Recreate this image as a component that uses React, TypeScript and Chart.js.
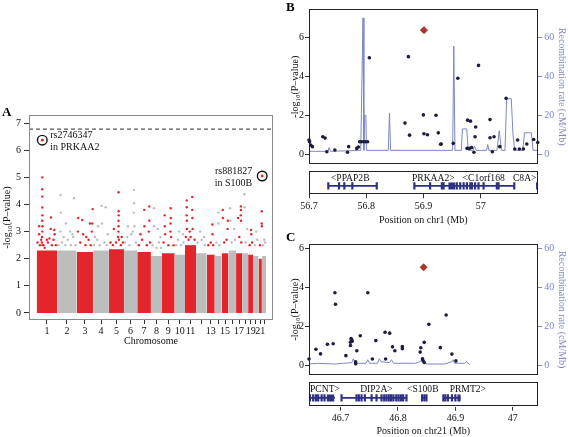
import React, { useEffect, useRef } from 'react';
import { Chart, registerables } from 'chart.js';

Chart.register(...registerables);

const FONT = "'Liberation Serif', 'Times New Roman', serif";
const RED = '#e3262b';
const GREY = '#bdbdbd';
const NAVY = '#2e3182';
const RECOMB = '#7d87c6';
const DOT = '#1d1d3c';
const HIT = '#b3322a';

// ---------------- Panel A: genome-wide scan ----------------
const CHROMOSOMES = ['1','2','3','4','5','6','7','8','9','10','11','12','13','14','15','16','17','18','19','20','21','22'];
const CHR_SPAN_MB = [257, 243, 207, 196, 188, 166, 171, 138, 159, 129, 138, 134, 100, 88, 83, 96, 75, 75, 63, 66, 43, 54];
const CHR_TICK_LABELS = ['1','2','3','4','5','6','7','8','9','10','11','','13','','15','','17','','19','','21',''];
const BAND_TOP = [2.3, 2.3, 2.25, 2.3, 2.35, 2.3, 2.25, 2.1, 2.2, 2.15, 2.5, 2.2, 2.15, 2.1, 2.2, 2.3, 2.2, 2.2, 2.15, 2.1, 2.0, 2.1];
const PEAK_SNPS: [number, number, number][] = [
  [1,70,5.0],[1,70,4.56],[1,70,4.29],[1,70,3.89],[1,71,3.6],[1,69,3.4],[1,72,3.2],[1,70,3.0],[1,68,2.8],[1,179,3.52],[1,220,3.06],[1,225,2.9],[1,29,3.2],[1,31,2.9],[1,129,2.7],[1,160,2.75],
  [2,42,4.35],[2,45,3.7],[2,209,4.23],[2,109,3.3],[2,159,3.0],[2,80,2.8],[2,190,2.9],
  [3,20,3.5],[3,70,3.43],[3,166,3.3],[3,200,3.83],[3,120,2.8],[3,190,3.0],
  [4,105,3.95],[4,155,3.9],[4,59,3.2],[4,20,2.8],[4,180,2.9],
  [5,121,4.45],[5,121,3.75],[5,122,3.6],[5,120,3.4],[5,121,3.2],[5,119,3.0],[5,62,3.1],[5,160,2.8],
  [6,125,4.54],[6,126,4.05],[6,124,3.7],[6,50,3.2],[6,90,2.9],
  [7,88,3.8],[7,150,3.93],[7,152,3.4],[7,40,2.9],
  [8,37,3.86],[8,87,3.1],[8,120,2.8],
  [9,34,3.6],[9,36,3.2],[9,109,3.86],[9,110,3.5],[9,108,3.3],
  [10,54,3.0],[10,104,2.9],
  [11,21,4.15],[11,22,3.9],[11,20,3.6],[11,23,3.4],[11,91,4.28],[11,90,3.8],[11,92,3.5],[11,60,3.0],
  [12,50,3.0],[12,100,2.8],
  [13,70,3.26],[13,72,2.9],
  [14,45,3.7],[14,47,3.3],
  [15,12,3.8],[15,14,3.5],[15,75,3.4],[15,73,3.1],
  [16,21,3.86],[16,23,3.4],[16,71,3.1],
  [17,59,3.93],[17,60,3.8],[17,58,3.6],[17,61,3.4],[17,25,3.5],
  [18,29,4.38],[18,31,3.9],[18,62,3.1],
  [19,37,3.06],[19,39,2.9],
  [20,38,3.0],
  [21,42,3.75],[21,41,3.3],[21,43,3.2],
  [22,29,2.7],
];
const DENSE_SNPS: [number, number, number][] = [
  [1,10,2.6],[1,40,2.5],[1,55,2.7],[1,85,2.5],[1,100,2.4],[1,140,2.6],[1,175,3.1],[1,190,2.5],[1,210,2.7],[1,240,2.5],[1,66,2.6],[1,74,2.5],
  [2,15,2.5],[2,40,3.0],[2,60,2.6],[2,100,2.5],[2,130,2.7],[2,170,2.5],[2,200,2.8],[2,230,2.5],
  [3,15,3.0],[3,45,2.6],[3,80,2.9],[3,110,2.5],[3,150,2.7],[3,175,2.5],[3,195,3.3],
  [4,10,2.5],[4,50,2.7],[4,80,2.5],[4,110,3.3],[4,140,2.6],[4,170,2.5],
  [5,20,2.6],[5,50,2.5],[5,90,2.6],[5,115,2.8],[5,125,2.7],[5,150,2.5],[5,175,2.6],
  [6,15,2.6],[6,40,2.8],[6,70,2.5],[6,110,3.0],[6,130,3.2],[6,150,2.6],
  [7,20,2.5],[7,60,2.7],[7,90,3.2],[7,120,2.5],[7,145,3.0],[7,160,2.6],
  [8,20,2.5],[8,40,3.2],[8,70,2.4],[8,100,2.6],[8,125,2.4],
  [9,20,2.6],[9,40,2.9],[9,80,2.5],[9,105,3.0],[9,115,2.8],[9,145,2.5],
  [10,20,2.5],[10,40,2.7],[10,80,2.5],[10,110,2.6],
  [11,10,2.8],[11,25,3.1],[11,45,2.7],[11,70,2.8],[11,95,3.1],[11,120,2.7],
  [12,20,2.6],[12,70,2.7],[12,110,2.5],
  [13,20,2.5],[13,50,2.6],[13,80,2.5],
  [14,20,2.6],[14,60,2.5],
  [15,30,2.6],[15,60,2.7],
  [16,40,2.6],[16,80,2.7],
  [17,40,2.8],[17,65,2.6],
  [18,45,2.6],
  [19,20,2.5],[19,50,2.6],
  [20,20,2.5],[20,50,2.7],
  [21,20,2.5],
  [22,15,2.5],[22,40,2.6],
];
const HIT_SNPS: [number, number, number][] = [[1, 70, 6.37], [21, 47, 5.05]];
const HIT_NAMES = [['rs2746347', 'in PRKAA2'], ['rs881827', 'in S100B']];
const HIT_LABEL_SIDE = ['right', 'left'];
const GW_THRESHOLD = 6.78;
const A_Y_TICKS = [0, 1, 2, 3, 4, 5, 6, 7];

// ---------------- Panel B: chr1 region ----------------
const SNP_B_POS = [56.700,56.701,56.703,56.706,56.724,56.728,56.731,56.745,56.769,56.767,56.783,56.786,56.788,56.791,56.795,56.798,56.802,56.805,56.873,56.867,56.875,56.899,56.900,56.906,56.921,56.925,56.930,56.929,56.951,56.959,56.976,56.981,56.990,56.989,56.975,56.979,56.983,56.987,56.995,57.015,57.015,57.022,57.019,57.032,57.043,57.058,57.066,57.073,57.063,57.079,57.091,57.098];
const SNP_B_LOGP = [0.73,0.64,0.47,0.39,0.90,0.83,0.13,0.22,0.39,0.10,0.30,0.37,0.64,0.64,0.64,0.64,0.64,4.95,5.01,1.60,0.98,2.02,1.05,1.00,2.00,1.10,0.53,0.51,0.56,3.90,1.75,1.70,1.40,0.90,0.30,0.30,0.35,0.10,4.56,1.78,0.85,0.90,0.13,0.39,2.87,0.27,0.27,0.27,0.73,0.53,0.76,0.60];
const TOP_B = { pos: 56.900, logp: 6.37 };
const RECOMB_B_POS = [56.700,56.712,56.733,56.735,56.737,56.790,56.794,56.7955,56.797,56.799,56.800,56.838,56.840,56.842,56.950,56.952,56.954,56.965,56.967,56.9745,56.977,56.985,56.988,56.991,57.009,57.011,57.013,57.027,57.031,57.035,57.041,57.044,57.052,57.055,57.058,57.072,57.075,57.087,57.090,57.099];
const RECOMB_B_RATE = [1.5,1.5,1.5,3.5,1.5,2,70,2,20,20,2,2,21,2,2,55.5,2,2,13,13,2,2,4,2,2,5,2,2,12,2,2,28.5,28.5,10,2,2,11,11,2,2];
const GENE_B_NAMES = ['<PPAP2B', 'PRKAA2>', '<C1orf168', 'C8A>'];
const GENE_B_START = [56.7337, 56.884, 56.958, 57.0984];
const GENE_B_END = [56.8183, 56.958, 57.0584, 57.14];
const GENE_B_LABEL = [56.772, 56.917, 57.005, 57.0776];
const GENE_B_EXONS = [56.7337, 56.7524, 56.7617, 56.7757, 56.8183, 56.884, 56.9115, 56.932, 56.935, 56.958, 56.964, 56.970, 56.9757, 56.9817, 56.9845, 56.990, 56.996, 57.0048, 57.028, 57.031, 57.0584, 57.0984];
const GENE_B_BLOCKS: [number, number][] = [[56.9435, 56.9552]];
const B_X_TICKS = [56.7, 56.8, 56.9, 57.0];

// ---------------- Panel C: chr21 region ----------------
const SNP_C_POS = [46.690,46.691,46.747,46.883,46.853,46.777,46.785,46.734,46.718,46.719,46.720,46.717,46.717,46.677,46.687,46.761,46.790,46.807,46.807,46.794,46.728,46.845,46.839,46.838,46.873,46.657,46.665,46.709,46.893,46.726,46.726,46.755,46.778,46.842,46.843,46.845,46.900,46.645];
const SNP_C_LOGP = [3.73,3.14,3.73,2.59,2.11,1.71,1.66,1.53,1.38,1.33,1.25,1.20,1.03,1.09,1.12,1.28,0.96,0.97,0.86,0.76,0.76,1.19,0.91,0.69,0.92,0.84,0.60,0.51,0.59,0.20,0.09,0.34,0.34,0.35,0.25,0.16,0.24,0.34];
const TOP_C = { pos: 46.844, logp: 5.03 };
const RECOMB_C_POS = [46.645,46.660,46.690,46.705,46.719,46.722,46.725,46.744,46.747,46.750,46.764,46.767,46.770,46.785,46.788,46.792,46.830,46.838,46.842,46.846,46.850,46.880,46.893,46.895,46.898,46.915,46.918,46.924];
const RECOMB_C_RATE = [0.8,1.2,0.8,1.2,1.5,3.5,1.2,1.2,3.0,1.2,1.2,3.5,2.0,1.5,3.0,1.2,1.2,2.0,4.0,1.5,0.8,0.8,2.0,3.0,1.2,1.2,2.0,0.5];
const GENE_C_NAMES = ['PCNT>', 'DIP2A>', '<S100B', 'PRMT2>'];
const GENE_C_START = [46.645, 46.7017, 46.842, 46.8785];
const GENE_C_END = [46.690, 46.8148, 46.8496, 46.909];
const GENE_C_LABEL = [46.6675, 46.7625, 46.8432, 46.9216];
const GENE_C_EXONS = [46.6466, 46.6523, 46.657, 46.661, 46.667, 46.672, 46.7017, 46.7278, 46.7318, 46.7365, 46.7423, 46.754, 46.7626, 46.7713, 46.776, 46.780, 46.784, 46.788, 46.792, 46.797, 46.801, 46.805, 46.809, 46.8148, 46.842, 46.846, 46.8496, 46.879, 46.8825, 46.887, 46.894, 46.900];
const GENE_C_BLOCKS: [number, number][] = [[46.676, 46.689], [46.9035, 46.909]];
const C_X_TICKS = [46.7, 46.8, 46.9, 47.0];

// ---------------- helpers ----------------
const font10 = { family: FONT, size: 10 };

function fixBox(size: number, vertical: boolean) {
  return (s: any) => {
    if (vertical) s.width = size; else s.height = size;
    s.paddingLeft = 0; s.paddingRight = 0; s.paddingTop = 0; s.paddingBottom = 0;
  };
}
function setTicks(values: number[]) {
  return (s: any) => { s.ticks = values.map((v) => ({ value: v })); };
}

const framePlugin = {
  id: 'frame',
  afterDraw(chart: any, _a: any, opts: any) {
    const { ctx, chartArea: a } = chart;
    ctx.save();
    ctx.strokeStyle = opts.color || '#000';
    ctx.lineWidth = opts.width || 1;
    ctx.strokeRect(Math.round(a.left) + 0.5, Math.round(a.top) + 0.5, Math.round(a.right - a.left) - 1, Math.round(a.bottom - a.top) - 1);
    ctx.restore();
  },
};

const chrStart: number[] = [];
CHR_SPAN_MB.reduce((acc, len, i) => { chrStart[i] = acc; return acc + len; }, 0);
const chrCenter = CHR_SPAN_MB.map((len, i) => chrStart[i] + len / 2);
const genomeX = (chr: number, pos: number) => chrStart[chr - 1] + pos;
const A_XMIN = -96;
const A_XMAX = 2954;

const hitLabelPlugin = {
  id: 'hitLabels',
  afterDatasetsDraw(chart: any) {
    const { ctx, scales } = chart;
    ctx.save();
    ctx.font = `10px ${FONT}`;
    ctx.fillStyle = '#111';
    ctx.textBaseline = 'middle';
    HIT_SNPS.forEach(([c, pos, p], i) => {
      const px = scales.x.getPixelForValue(genomeX(c, pos));
      const py = scales.y.getPixelForValue(p);
      const right = HIT_LABEL_SIDE[i] === 'right';
      ctx.textAlign = right ? 'left' : 'right';
      const tx = right ? px + 8 : px - 10;
      ctx.fillText(HIT_NAMES[i][0], tx, py - 4.5);
      ctx.fillText(HIT_NAMES[i][1], tx, py + 7);
    });
    ctx.restore();
  },
};

function configA(): any {
  const bands = CHROMOSOMES.map((_, i) => ({
    type: 'line',
    data: [{ x: chrStart[i], y: BAND_TOP[i] }, { x: chrStart[i] + CHR_SPAN_MB[i], y: BAND_TOP[i] }],
    borderWidth: 0,
    pointRadius: 0,
    fill: 'origin',
    backgroundColor: i % 2 === 0 ? RED : GREY,
    borderColor: 'transparent',
    order: 10,
  }));
  const allSnps = [...DENSE_SNPS, ...PEAK_SNPS];
  return {
    type: 'scatter',
    plugins: [framePlugin, hitLabelPlugin],
    data: {
      datasets: [
        {
          data: HIT_SNPS.map(([c, pos, p]) => ({ x: genomeX(c, pos), y: p })),
          pointRadius: 4.8, pointBorderWidth: 1.4, borderColor: '#111', backgroundColor: 'rgba(0,0,0,0)', order: 0,
        },
        {
          data: HIT_SNPS.map(([c, pos, p]) => ({ x: genomeX(c, pos), y: p })),
          pointRadius: 1.4, borderWidth: 0, backgroundColor: RED, order: 1,
        },
        {
          type: 'line',
          data: [{ x: A_XMIN, y: GW_THRESHOLD }, { x: A_XMAX, y: GW_THRESHOLD }],
          borderColor: '#555', borderWidth: 1.3, borderDash: [4, 3], pointRadius: 0, fill: false, order: 2,
        },
        {
          data: allSnps.map(([c, pos, p]) => ({ x: genomeX(c, pos), y: p })),
          pointRadius: 1.2, borderWidth: 0,
          backgroundColor: allSnps.map(([c]) => (c % 2 === 1 ? RED : GREY)),
          order: 3,
        },
        ...bands,
      ],
    },
    options: {
      responsive: false, animation: false, devicePixelRatio: 1,
      layout: { padding: { left: 0, right: 295, top: 115, bottom: 89.3 } },
      plugins: { legend: { display: false }, tooltip: { enabled: false }, frame: { color: '#8a8a8a' } },
      scales: {
        x: {
          type: 'linear', min: A_XMIN, max: A_XMAX, position: 'bottom',
          afterBuildTicks: setTicks(chrCenter), afterFit: fixBox(27.7, false),
          grid: { drawOnChartArea: false, drawTicks: true, tickLength: 4, tickColor: '#333' },
          border: { display: false },
          ticks: { autoSkip: false, maxRotation: 0, padding: 1, font: font10, color: '#111', callback: (_v: any, i: number) => CHR_TICK_LABELS[i] },
          title: { display: true, text: 'Chromosome', font: font10, color: '#111', padding: { top: 0, bottom: 0 } },
        },
        y: {
          type: 'linear', min: -0.26, max: 7.3, position: 'left',
          afterBuildTicks: setTicks(A_Y_TICKS), afterFit: fixBox(29, true),
          grid: { drawOnChartArea: false, drawTicks: true, tickLength: 5, tickColor: '#333' },
          border: { display: false },
          ticks: { padding: 3, font: font10, color: '#111' },
          title: { display: true, text: '-log\u2081\u2080(P\u2013value)', font: font10, color: '#111', padding: { top: 1, bottom: 0 } },
        },
      },
    },
  };
}

function configRegion(top: number, bottom: number, xmin: number, xmax: number, ymin: number, ymax: number,
  snpPos: number[], snpP: number[], topSnp: { pos: number; logp: number }, recPos: number[], recRate: number[]): any {
  return {
    type: 'scatter',
    plugins: [framePlugin],
    data: {
      datasets: [
        {
          data: [{ x: topSnp.pos, y: topSnp.logp }],
          pointStyle: 'rectRot', pointRadius: 3.6, backgroundColor: HIT, borderColor: '#7a1f18', borderWidth: 0.6, clip: false,
        },
        {
          data: snpPos.map((x, i) => ({ x, y: snpP[i] })),
          pointRadius: 1.8, borderWidth: 0, backgroundColor: DOT, clip: 3,
        },
        {
          type: 'line', yAxisID: 'y2',
          data: recPos.map((x, i) => ({ x, y: recRate[i] })),
          borderColor: RECOMB, borderWidth: 1, pointRadius: 0, fill: false, tension: 0,
        },
      ],
    },
    options: {
      responsive: false, animation: false, devicePixelRatio: 1,
      layout: { padding: { left: 288, right: 0, top, bottom: 437 - bottom } },
      plugins: { legend: { display: false }, tooltip: { enabled: false }, frame: { color: '#222' } },
      scales: {
        x: { type: 'linear', min: xmin, max: xmax, display: false },
        y: {
          type: 'linear', min: ymin, max: ymax, position: 'left',
          afterBuildTicks: setTicks([0, 2, 4, 6]), afterFit: fixBox(21, true),
          grid: { drawOnChartArea: false, drawTicks: true, tickLength: 4, tickColor: '#333' },
          border: { display: false },
          ticks: { padding: 1, font: font10, color: '#111' },
          title: { display: true, text: '-log\u2081\u2080(P\u2013value)', font: font10, color: '#111', padding: { top: 1, bottom: 0 } },
        },
        y2: {
          type: 'linear', min: ymin * 10, max: ymax * 10, position: 'right',
          afterBuildTicks: setTicks([0, 20, 40, 60]), afterFit: fixBox(29.7, true),
          grid: { drawOnChartArea: false, drawTicks: true, tickLength: 4, tickColor: RECOMB },
          border: { display: false },
          ticks: { padding: 2, font: font10, color: RECOMB },
          title: { display: true, text: 'Recombination rate (cM/Mb)', font: font10, color: RECOMB, padding: { top: 0, bottom: 0 } },
        },
      },
    },
  };
}

function geneLabelPlugin(names: string[], labelPos: number[]) {
  return {
    id: 'geneLabels',
    afterDatasetsDraw(chart: any) {
      const { ctx, scales, chartArea: a } = chart;
      ctx.save();
      ctx.font = `9.6px ${FONT}`;
      ctx.fillStyle = '#111';
      ctx.textBaseline = 'middle';
      ctx.textAlign = 'center';
      const py = scales.y.getPixelForValue(0.7);
      names.forEach((n, i) => {
        const w = ctx.measureText(n).width;
        let px = scales.x.getPixelForValue(labelPos[i]);
        px = Math.max(a.left + w / 2 + 1, Math.min(a.right - w / 2 - 1, px));
        ctx.fillText(n, px, py);
      });
      ctx.restore();
    },
  };
}

function configGenes(top: number, bottom: number, axisH: number, titlePad: number, xmin: number, xmax: number, ticks: number[], title: string,
  names: string[], starts: number[], ends: number[], labels: number[], exons: number[], blocks: [number, number][]): any {
  const GY = 0.36;
  const lines = names.map((_, i) => ({
    type: 'line', data: [{ x: starts[i], y: GY }, { x: ends[i], y: GY }],
    borderColor: NAVY, borderWidth: 1.6, pointRadius: 0, fill: false,
  }));
  const blockSets = blocks.map(([s, e]) => ({
    type: 'line', data: [{ x: s, y: GY }, { x: e, y: GY }],
    borderColor: NAVY, borderWidth: 7, borderCapStyle: 'butt', pointRadius: 0, fill: false,
  }));
  return {
    type: 'scatter',
    plugins: [framePlugin, geneLabelPlugin(names, labels)],
    data: {
      datasets: [
        {
          data: exons.map((x) => ({ x, y: GY })),
          pointStyle: 'line', rotation: 90, pointRadius: 3.6, borderWidth: 2.2, borderColor: NAVY, backgroundColor: NAVY,
        },
        ...blockSets,
        ...lines,
      ],
    },
    options: {
      responsive: false, animation: false, devicePixelRatio: 1,
      layout: { padding: { left: 309, right: 30.5, top, bottom: Math.max(0, 437 - bottom - axisH) } },
      plugins: { legend: { display: false }, tooltip: { enabled: false }, frame: { color: '#222' } },
      scales: {
        x: {
          type: 'linear', min: xmin, max: xmax, position: 'bottom',
          afterBuildTicks: setTicks(ticks), afterFit: fixBox(axisH, false),
          grid: { drawOnChartArea: false, drawTicks: true, tickLength: 4, tickColor: '#333' },
          border: { display: false },
          ticks: { autoSkip: false, maxRotation: 0, padding: 2, font: font10, color: '#111', callback: (v: any) => String(Math.round(Number(v) * 10) / 10) },
          title: { display: true, text: title, font: font10, color: '#111', padding: { top: 0, bottom: titlePad } },
        },
        y: { type: 'linear', min: 0, max: 1, display: false },
      },
    },
  };
}

const letterStyle: React.CSSProperties = {
  position: 'absolute', fontFamily: FONT, fontWeight: 'bold', fontSize: 13, lineHeight: '13px', color: '#000',
};
const canvasStyle: React.CSSProperties = { position: 'absolute', left: 0, top: 0, width: 568, height: 437 };

export default function App() {
  const rA = useRef<HTMLCanvasElement>(null);
  const rB = useRef<HTMLCanvasElement>(null);
  const rBg = useRef<HTMLCanvasElement>(null);
  const rC = useRef<HTMLCanvasElement>(null);
  const rCg = useRef<HTMLCanvasElement>(null);

  useEffect(() => {
    Chart.defaults.font.family = FONT;
    const charts = [
      new Chart(rA.current!, configA()),
      new Chart(rB.current!, configRegion(9.3, 164, 56.7, 57.099, -0.5, 7.44, SNP_B_POS, SNP_B_LOGP, TOP_B, RECOMB_B_POS, RECOMB_B_RATE)),
      new Chart(rBg.current!, configGenes(171, 194.3, 33.7, 2, 56.7, 57.099, B_X_TICKS, 'Position on chr1 (Mb)',
        GENE_B_NAMES, GENE_B_START, GENE_B_END, GENE_B_LABEL, GENE_B_EXONS, GENE_B_BLOCKS)),
      new Chart(rC.current!, configRegion(244, 375, 46.645, 47.043, -0.48, 6.22, SNP_C_POS, SNP_C_LOGP, TOP_C, RECOMB_C_POS, RECOMB_C_RATE)),
      new Chart(rCg.current!, configGenes(382.3, 406.7, 30.3, 0, 46.645, 47.043, C_X_TICKS, 'Position on chr21 (Mb)',
        GENE_C_NAMES, GENE_C_START, GENE_C_END, GENE_C_LABEL, GENE_C_EXONS, GENE_C_BLOCKS)),
    ];
    return () => charts.forEach((c) => c.destroy());
  }, []);

  return (
    <div style={{ position: 'fixed', left: 0, top: 0, width: 568, height: 437, background: '#fff', overflow: 'hidden' }}>
      <canvas ref={rA} width={568} height={437} style={canvasStyle} />
      <canvas ref={rB} width={568} height={437} style={canvasStyle} />
      <canvas ref={rBg} width={568} height={437} style={canvasStyle} />
      <canvas ref={rC} width={568} height={437} style={canvasStyle} />
      <canvas ref={rCg} width={568} height={437} style={canvasStyle} />
      <div style={{ ...letterStyle, left: 2, top: 105 }}>A</div>
      <div style={{ ...letterStyle, left: 286, top: 0 }}>B</div>
      <div style={{ ...letterStyle, left: 286, top: 230 }}>C</div>
    </div>
  );
}
